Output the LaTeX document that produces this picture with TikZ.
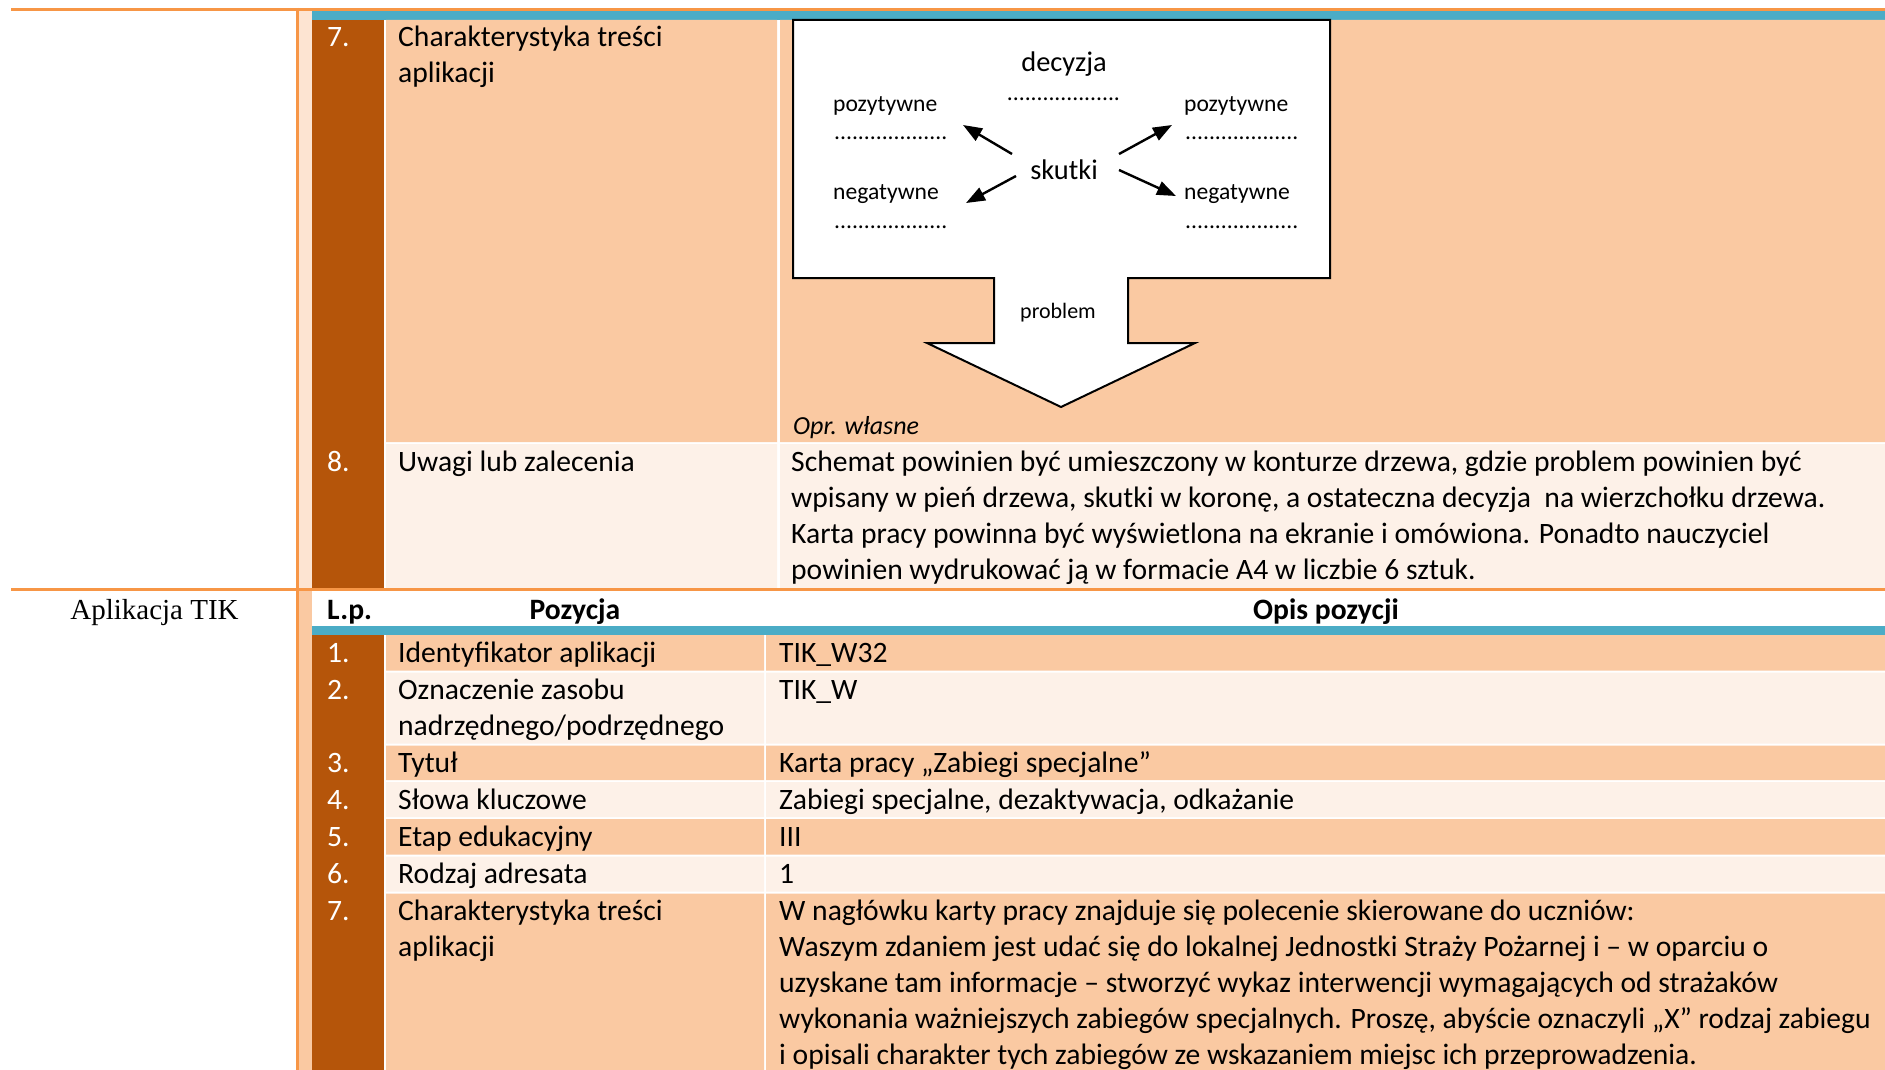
\documentclass[tikz,border=0pt]{standalone}
\usepackage{fontspec}
\setmainfont{Carlito}
\newfontfamily\tikserif{Liberation Serif}
\usetikzlibrary{positioning}
\usetikzlibrary{arrows.meta}

\definecolor{lineOrange}{HTML}{F79646}
\definecolor{bandTeal}{HTML}{4BACC6}
\definecolor{colBrown}{HTML}{B5550A}
\definecolor{rowDark}{HTML}{FAC9A2}
\definecolor{rowLight}{HTML}{FDF1E8}
\definecolor{stripPale}{HTML}{FDE4D2}

\begin{document}
\begin{tikzpicture}[x=1pt,y=-1pt,
  txt/.style={anchor=base west,inner sep=0pt,font=\fontsize{29.6}{36}\selectfont},
  num/.style={txt,text=white},
  hdr/.style={anchor=base,inner sep=0pt,font=\fontsize{29.6}{36}\selectfont\bfseries},
  lbl/.style={anchor=base west,inner sep=0pt,font=\fontsize{23.6}{28}\selectfont},
  big/.style={anchor=base,inner sep=0pt,font=\fontsize{28.4}{34}\selectfont},
  arr/.style={-{Triangle[length=19pt,width=14pt]},line width=2.4pt}]

\fill[white] (0,0) rectangle (1885,1070);
\useasboundingbox (0,0) rectangle (1885,1070);

% upper table (rows 7 and 8)
\fill[stripPale] (299,11) rectangle (312,588);
\fill[bandTeal] (312,11) rectangle (1885,20);
\fill[colBrown] (312,20) rectangle (384,588);
\fill[rowDark] (386,20) rectangle (777,442) (780,20) rectangle (1885,442);
\fill[rowLight] (386,444) rectangle (777,588) (780,444) rectangle (1885,588);

% lower table
\fill[rowDark] (299,591) rectangle (312,1070);
\fill[bandTeal] (312,626) rectangle (1885,635);
\fill[colBrown] (312,635) rectangle (384,1070);
\fill[rowDark] (386,635) rectangle (764,670.5) (766,635) rectangle (1885,670.5);
\fill[rowLight] (386,672.5) rectangle (764,743.5) (766,672.5) rectangle (1885,743.5);
\fill[rowDark] (386,745.5) rectangle (764,780) (766,745.5) rectangle (1885,780);
\fill[rowLight] (386,782) rectangle (764,817) (766,782) rectangle (1885,817);
\fill[rowDark] (386,819) rectangle (764,854.5) (766,819) rectangle (1885,854.5);
\fill[rowLight] (386,856.5) rectangle (764,891.5) (766,856.5) rectangle (1885,891.5);
\fill[rowDark] (386,893.5) rectangle (764,1070) (766,893.5) rectangle (1885,1070);

\draw[lineOrange,line width=3pt] (11,9.3) -- (1885,9.3);
\draw[lineOrange,line width=2.5pt] (11,589.3) -- (1885,589.3);
\draw[lineOrange,line width=3pt] (297.8,8) -- (297.8,1070);

% schemat: box with arrow
\draw[fill=white,line width=2pt] (793,20) -- (1330,20) -- (1330,278) -- (1128,278)
  -- (1128,343) -- (1195,343) -- (1061,407) -- (927,343) -- (994,343)
  -- (994,278) -- (793,278) -- cycle;

\node[num] (uNr7) at (327,47) {7.};
\node[txt] (uPoz7a) at (398,47) {Charakterystyka treści};
\node[txt] (uPoz7b) at (398,83) {aplikacji};

\node[big] (decyzja) at (1064,72) {decyzja};
\node[lbl,anchor=base] (decDots) at (1063.5,101) {...................};
\node[big] (skutki) at (1064,179) {skutki};
\node[lbl] (pozL) at (833,112) {pozytywne};
\node[lbl] (pozLdots) at (834,140) {...................};
\node[lbl] (negL) at (833,200) {negatywne};
\node[lbl] (negLdots) at (834,228) {...................};
\node[lbl] (pozR) at (1184,112) {pozytywne};
\node[lbl] (pozRdots) at (1185,140) {...................};
\node[lbl] (negR) at (1184,200) {negatywne};
\node[lbl] (negRdots) at (1185,228) {...................};
\node[big,font=\fontsize{22}{26}\selectfont] (problem) at (1058,318) {problem};
\node[txt,font=\fontsize{26}{31}\selectfont\itshape] (zrodlo) at (793,434) {Opr. własne};

\coordinate (ulS) at (1012,154); \coordinate (ulE) at (963,125);
\coordinate (llS) at (1016,176); \coordinate (llE) at (966,203);
\coordinate (urS) at (1119,154); \coordinate (urE) at (1172,125);
\coordinate (lrS) at (1119,170); \coordinate (lrE) at (1176,196);
\draw[arr] (ulS) -- (ulE);
\draw[arr] (llS) -- (llE);
\draw[arr] (urS) -- (urE);
\draw[arr] (lrS) -- (lrE);

\node[num] (uNr8) at (327,471) {8.};
\node[txt] (uPoz8) at (398,471) {Uwagi lub zalecenia};
\node[txt] (uOpis8a) at (791,471) {Schemat powinien być umieszczony w konturze drzewa, gdzie problem powinien być};
\node[txt] (uOpis8b) at (791,507) {wpisany w pień drzewa, skutki w koronę, a ostateczna decyzja~ na wierzchołku drzewa.};
\node[txt] (uOpis8c) at (791,543) {Karta pracy powinna być wyświetlona na ekranie i omówiona. Ponadto nauczyciel};
\node[txt] (uOpis8d) at (791,579) {powinien wydrukować ją w formacie A4 w liczbie 6 sztuk.};

% lower table
\node[anchor=base,inner sep=0pt,font=\tikserif\fontsize{29}{36}\selectfont] (aplikacja) at (154.5,619) {Aplikacja TIK};
\node[txt,font=\fontsize{29.6}{36}\selectfont\bfseries] (hLp) at (327,619) {L.p.};
\node[hdr] (hPoz) at (575,619) {Pozycja};
\node[hdr] (hOpis) at (1326,619) {Opis pozycji};

\node[num] (nr1) at (327,662) {1.};
\node[txt] (poz1) at (398,662) {Identyfikator aplikacji};
\node[txt] (opis1) at (779,662) {TIK\_W32};

\node[num] (nr2) at (327,699) {2.};
\node[txt] (poz2a) at (398,699) {Oznaczenie zasobu};
\node[txt] (poz2b) at (398,735) {nadrzędnego/podrzędnego};
\node[txt] (opis2) at (779,699) {TIK\_W};

\node[num] (nr3) at (327,772) {3.};
\node[txt] (poz3) at (398,772) {Tytuł};
\node[txt] (opis3) at (779,772) {Karta pracy „Zabiegi specjalne”};

\node[num] (nr4) at (327,809) {4.};
\node[txt] (poz4) at (398,809) {Słowa kluczowe};
\node[txt] (opis4) at (779,809) {Zabiegi specjalne, dezaktywacja, odkażanie};

\node[num] (nr5) at (327,846) {5.};
\node[txt] (poz5) at (398,846) {Etap edukacyjny};
\node[txt] (opis5) at (779,846) {III};

\node[num] (nr6) at (327,883) {6.};
\node[txt] (poz6) at (398,883) {Rodzaj adresata};
\node[txt] (opis6) at (779,883) {1};

\node[num] (nr7) at (327,920) {7.};
\node[txt] (poz7a) at (398,920) {Charakterystyka treści};
\node[txt] (poz7b) at (398,956) {aplikacji};
\node[txt] (opis7a) at (779,920) {W nagłówku karty pracy znajduje się polecenie skierowane do uczniów:};
\node[txt] (opis7b) at (779,956) {Waszym zdaniem jest udać się do lokalnej Jednostki Straży Pożarnej i – w oparciu o};
\node[txt] (opis7c) at (779,992) {uzyskane tam informacje – stworzyć wykaz interwencji wymagających od strażaków};
\node[txt] (opis7d) at (779,1028) {wykonania ważniejszych zabiegów specjalnych. Proszę, abyście oznaczyli „X” rodzaj zabiegu};
\node[txt] (opis7e) at (779,1064) {i opisali charakter tych zabiegów ze wskazaniem miejsc ich przeprowadzenia.};

\end{tikzpicture}
\end{document}
